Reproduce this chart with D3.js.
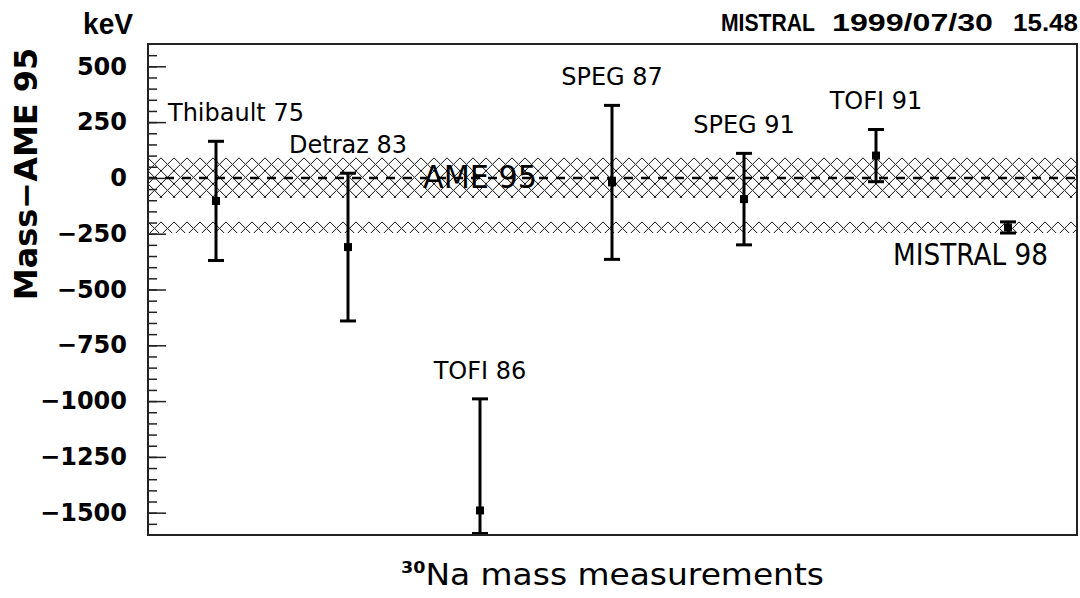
<!DOCTYPE html>
<html>
<head>
<meta charset="utf-8">
<script src="https://d3js.org/d3.v7.min.js"></script>
<style>
  body { margin: 0; background: #fff; }
</style>
</head>
<body>
<div id="chart"></div>
<script>
// measurements of the 30Na mass, relative to AME 95 (keV)
var labels = ["Thibault 75", "Detraz 83", "TOFI 86", "SPEG 87", "SPEG 91", "TOFI 91", "MISTRAL 98"];
var values = [-103, -310, -1490, -20, -95, 100, -222];
var errors = [267, 331, 500, 345, 205, 117, 25];
var ameValue = 0, ameError = 90;
var yTicks = [-1500, -1250, -1000, -750, -500, -250, 0, 250, 500];

var width = 1080, height = 598;
var margin = {top: 44, right: 3, bottom: 63, left: 148};
var x0 = margin.left, x1 = width - margin.right,
    y0 = margin.top, y1 = height - margin.bottom;

var svg = d3.select("#chart")
  .append("svg")
    .attr("width", width)
    .attr("height", height);

var x = d3.scalePoint().domain(labels).range([x0 + 68, x1 - 69]);
var y = d3.scaleLinear().domain([-1600, 600]).range([y1, y0]);

// hatch patterns + clip
var defs = svg.append("defs");
function hatch(id, yTop) {
  var p = defs.append("pattern")
    .attr("id", id)
    .attr("patternUnits", "userSpaceOnUse")
    .attr("width", 13).attr("height", 13)
    .attr("patternTransform", "translate(" + x0 + "," + yTop + ")");
  p.append("path")
    .attr("d", "M0,0L13,13M13,0L0,13")
    .attr("stroke", "#111")
    .attr("stroke-width", 1)
    .attr("shape-rendering", "crispEdges")
    .attr("fill", "none");
}
hatch("hatchAme", y(ameValue + ameError));
hatch("hatchMis", y(values[6] + errors[6]));

defs.append("clipPath").attr("id", "plotClip")
  .append("rect")
    .attr("x", x0).attr("y", y0)
    .attr("width", x1 - x0).attr("height", y1 - y0);

var plot = svg.append("g").attr("clip-path", "url(#plotClip)");

// AME 95 band and MISTRAL band
plot.append("rect")
  .attr("x", x0).attr("width", x1 - x0)
  .attr("y", y(ameValue + ameError))
  .attr("height", y(ameValue - ameError) - y(ameValue + ameError))
  .attr("fill", "url(#hatchAme)");
plot.append("rect")
  .attr("x", x0).attr("width", x1 - x0)
  .attr("y", y(values[6] + errors[6]))
  .attr("height", y(values[6] - errors[6]) - y(values[6] + errors[6]))
  .attr("fill", "url(#hatchMis)");

// AME 95 dashed line
plot.append("line")
  .attr("x1", x0).attr("x2", x1)
  .attr("y1", y(ameValue)).attr("y2", y(ameValue))
  .attr("stroke", "#000")
  .attr("stroke-width", 2.5)
  .attr("stroke-dasharray", "9,8");

// error bars
var dom = y.domain();
function clampV(v) { return Math.max(dom[0], Math.min(dom[1], v)); }
var bars = plot.selectAll(".bar")
  .data(labels)
  .enter()
  .append("g")
    .attr("class", "bar");
bars.append("line")
  .attr("x1", function (d) { return x(d); })
  .attr("x2", function (d) { return x(d); })
  .attr("y1", function (d, i) { return y(clampV(values[i] + errors[i])); })
  .attr("y2", function (d, i) { return y(clampV(values[i] - errors[i])); })
  .attr("stroke", "#000").attr("stroke-width", 3);
[1, -1].forEach(function (s) {
  bars.append("line")
    .attr("x1", function (d) { return x(d) - 8; })
    .attr("x2", function (d) { return x(d) + 8; })
    .attr("y1", function (d, i) { return y(clampV(values[i] + s * errors[i])) + (s < 0 && values[i] - errors[i] < dom[0] ? -1.5 : 0); })
    .attr("y2", function (d, i) { return y(clampV(values[i] + s * errors[i])) + (s < 0 && values[i] - errors[i] < dom[0] ? -1.5 : 0); })
    .attr("stroke", "#000").attr("stroke-width", 3);
});
bars.append("rect")
  .attr("x", function (d) { return x(d) - 4; })
  .attr("y", function (d, i) { return y(values[i]) - 4; })
  .attr("width", 8).attr("height", 8)
  .attr("fill", "#000");

// frame
svg.append("rect")
  .attr("x", x0).attr("y", y0)
  .attr("width", x1 - x0).attr("height", y1 - y0)
  .attr("fill", "none")
  .attr("stroke", "#222")
  .attr("stroke-width", 2);

// Y axis: minor ticks, major ticks, labels
var minor = svg.append("g")
  .attr("transform", "translate(" + x0 + ",0)")
  .call(d3.axisRight(y).tickValues(d3.range(-1550, 600, 50)).tickSize(9).tickFormat(""));
minor.select(".domain").remove();
var major = svg.append("g")
  .attr("transform", "translate(" + x0 + ",0)")
  .call(d3.axisRight(y).tickValues(yTicks).tickSize(18).tickFormat(""));
major.select(".domain").remove();
svg.selectAll(".tick line").attr("stroke", "#222").attr("stroke-width", 1.5);

var yLab = svg.append("g")
  .attr("transform", "translate(" + x0 + ",0)")
  .call(d3.axisLeft(y).tickValues(yTicks).tickSize(0).tickPadding(21).tickFormat(d3.format("d")));
yLab.select(".domain").remove();
yLab.attr("font-family", "DejaVu Sans").attr("font-size", 24).attr("font-weight", "bold");
yLab.selectAll("text").attr("fill", "#000");

svg.append("text")
  .attr("x", 83).attr("y", 34)
  .attr("textLength", 50).attr("lengthAdjust", "spacingAndGlyphs")
  .style("font-family", "Liberation Sans").style("font-weight", "bold").style("font-size", "30px")
  .text("keV");

svg.append("text")
  .attr("transform", "translate(37," + ((y0 + y(0)) / 2 + 63) + ") rotate(-90)")
  .attr("text-anchor", "middle")
  .style("font-family", "DejaVu Sans").style("font-weight", "bold").style("font-size", "32px")
  .text("Mass\u2212AME 95");

// header
var header = [["MISTRAL", 721, 94], ["1999/07/30", 832, 161], ["15.48", 1013, 65]];
header.forEach(function (h) {
  svg.append("text")
    .attr("x", h[1]).attr("y", 31)
    .attr("textLength", h[2]).attr("lengthAdjust", "spacingAndGlyphs")
    .style("font-family", "Liberation Sans").style("font-weight", "bold").style("font-size", "23px")
    .text(h[0]);
});

// measurement labels above the error bars
svg.selectAll(".mlab")
  .data(labels.slice(0, 6))
  .enter()
  .append("text")
    .attr("class", "mlab")
    .attr("x", function (d) { return x(d); })
    .attr("y", function (d, i) { return y(clampV(values[i] + errors[i])) - 20; })
    .attr("text-anchor", "middle")
    .style("font-family", "DejaVu Sans").style("font-size", "24px")
    .text(function (d) { return d; })
    .each(function (d) {
      var w = this.getComputedTextLength();
      if (x(d) - w / 2 < x0 + 20) d3.select(this).attr("x", x0 + 20 + w / 2);
    });

// band labels
svg.append("text")
  .attr("x", x(labels[2])).attr("y", y(ameValue) + 10)
  .attr("text-anchor", "middle")
  .attr("textLength", 114).attr("lengthAdjust", "spacingAndGlyphs")
  .style("font-family", "DejaVu Sans").style("font-size", "32px")
  .text("AME 95");
svg.append("text")
  .attr("x", x(labels[6]) + 40).attr("y", y(values[6] - errors[6]) + 32)
  .attr("text-anchor", "end")
  .attr("textLength", 155).attr("lengthAdjust", "spacingAndGlyphs")
  .style("font-family", "DejaVu Sans").style("font-size", "31px")
  .text("MISTRAL 98");

// X title
var xt = svg.append("text")
  .attr("x", (x0 + x1) / 2).attr("y", 585)
  .attr("text-anchor", "middle")
  .attr("textLength", 423).attr("lengthAdjust", "spacingAndGlyphs")
  .style("font-family", "DejaVu Sans").style("font-size", "30px");
xt.append("tspan").attr("dy", -12).style("font-size", "16px").style("font-weight", "bold").text("30");
xt.append("tspan").attr("dy", 12).text("Na mass measurements");
</script>
</body>
</html>
